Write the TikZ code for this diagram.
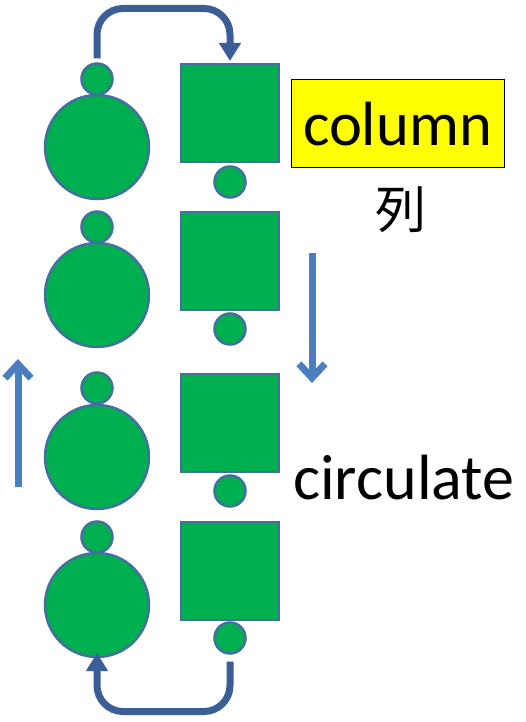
\documentclass[tikz,border=0pt]{standalone}
\usepackage{fontspec}
\setmainfont{Carlito}
\newfontfamily\cjkfont{Noto Sans CJK JP}
\usetikzlibrary{arrows.meta}
\definecolor{shapegreen}{RGB}{0,176,80}
\definecolor{shapeedge}{RGB}{65,113,156}
\definecolor{curvearrow}{RGB}{59,94,150}
\definecolor{straightarrow}{RGB}{74,126,192}
\definecolor{boxyellow}{RGB}{255,255,0}
\tikzset{
  bigball/.style={circle,draw=shapeedge,fill=shapegreen,line width=2.5pt,minimum size=104pt,inner sep=0pt,outer sep=0pt},
  smallball/.style={circle,draw=shapeedge,fill=shapegreen,line width=2.5pt,minimum size=31pt,inner sep=0pt,outer sep=0pt},
  sqbox/.style={rectangle,draw=shapeedge,fill=shapegreen,line width=2.5pt,minimum size=98pt,inner sep=0pt,outer sep=0pt},
  curved/.style={draw=curvearrow,line width=7pt,rounded corners=26pt,-{Triangle[width=21pt,length=18pt]}},
  straight/.style={draw=straightarrow,line width=7pt,-{Straight Barb[length=14pt,width=26pt,line width=7pt]}},
  bigtext/.style={inner sep=0pt}
}
\begin{document}
\begin{tikzpicture}[x=1pt,y=-1pt]
\useasboundingbox (0,0) rectangle (525,722);
% rows
\foreach \i/\cy/\sy in {1/147/113,2/295/261,3/457/423,4/605/571}{
  \node[bigball] (b\i) at (97,\cy) {};
  \node[sqbox] (q\i) at (230,\sy) {};
}
\node[smallball] (s1) at (97,79) {};
\node[smallball] (s2) at (97,227) {};
\node[smallball] (s3) at (97,388) {};
\node[smallball] (s4) at (97,537) {};
\node[smallball] (t1) at (230,182) {};
\node[smallball] (t2) at (230,329) {};
\node[smallball] (t3) at (230,491) {};
\node[smallball] (t4) at (230,638) {};
% curved arrows
\draw[curved,shorten <=5pt,shorten >=3pt] (s1.north) -- ++(0,-55) -| (q1.north);
\draw[curved,shorten <=8pt,shorten >=-4pt] (t4.south) -- ++(0,58) -| (b4.south);
% straight arrows
\coordinate (upfrom) at (18,487);
\coordinate (upto) at (18,359);
\coordinate (downfrom) at (312,253);
\coordinate (downto) at (312,383);
\draw[straight] (upfrom) -- (upto);
\draw[straight] (downfrom) -- (downto);
% labels
\node[bigtext,font=\fontsize{62.5}{62.5}\selectfont,draw=black,line width=0.8pt,fill=boxyellow,minimum width=213pt,minimum height=88pt,text height=45pt,text depth=0pt] (col) at (397.5,123) {column};
\node[font=\fontsize{51}{51}\selectfont\cjkfont,inner sep=0pt] (retsu) at (401,210) {列};
\node[bigtext,font=\fontsize{64}{64}\selectfont,anchor=base west] (circ) at (293,499) {circulate};
\end{tikzpicture}
\end{document}
